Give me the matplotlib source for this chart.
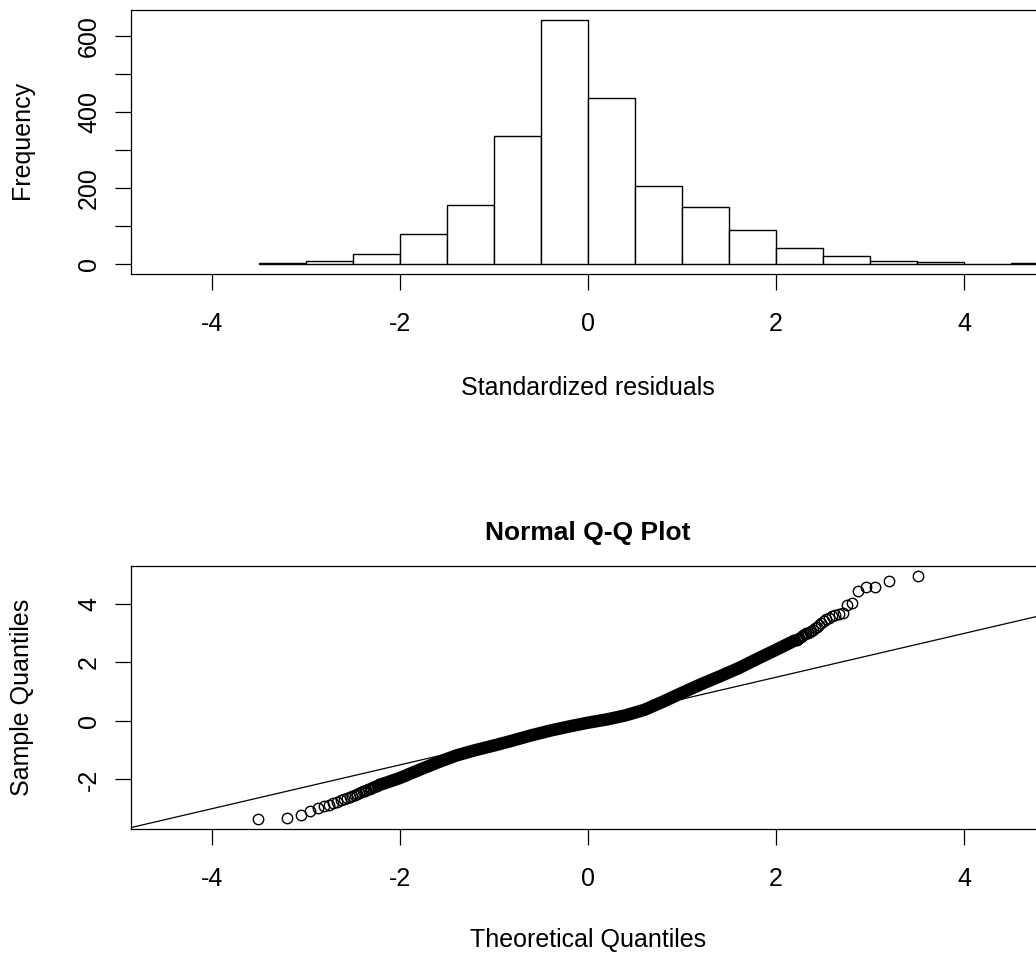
import statistics
import matplotlib
matplotlib.use("Agg")
import matplotlib.pyplot as plt

plt.rcParams.update({
    "font.family": ["Liberation Sans", "DejaVu Sans"],
    "font.size": 18,
    "axes.unicode_minus": False,
    "axes.linewidth": 0.9,
    "xtick.major.size": 11.5,
    "ytick.major.size": 11.5,
    "xtick.major.width": 0.9,
    "ytick.major.width": 0.9,
    "xtick.major.pad": 16,
    "ytick.major.pad": 10,
})

# histogram of standardized residuals, bins of width 0.5
bin_edges = [-3.5, -3.0, -2.5, -2.0, -1.5, -1.0, -0.5, 0.0, 0.5,
             1.0, 1.5, 2.0, 2.5, 3.0, 3.5, 4.0, 4.5, 5.0]
counts = [3, 9, 26, 79, 157, 339, 644, 439, 205, 152, 89, 44, 22, 9, 5, 1, 3]
n_obs = sum(counts)

# Q-Q plot: sorted residuals
# lowest residuals (1st, 2nd, ... smallest)
lower_tail = [-3.36, -3.32, -3.21, -3.08, -2.99, -2.92, -2.86, -2.81, -2.76, -2.71,
              -2.67, -2.63, -2.59, -2.56, -2.53, -2.50, -2.47, -2.44, -2.41, -2.38,
              -2.35, -2.33, -2.31, -2.29, -2.27, -2.25, -2.23, -2.21, -2.19, -2.17]
# highest residuals (1st, 2nd, ... largest)
upper_tail = [4.96, 4.79, 4.58, 4.56, 4.45, 4.02, 3.96, 3.70, 3.66, 3.62,
              3.57, 3.52, 3.47, 3.40, 3.33, 3.26, 3.21, 3.16, 3.12, 3.08,
              3.05, 3.02, 2.99, 2.96, 2.93, 2.90, 2.87, 2.84, 2.81, 2.78]
# dense middle of the curve (theoretical quantile, sample quantile)
body_theo = [-2.2, -2.0, -1.8, -1.6, -1.4, -1.2, -1.0, -0.8, -0.6, -0.4, -0.2, 0.0,
             0.2, 0.4, 0.6, 0.8, 1.0, 1.2, 1.4, 1.6, 1.8, 2.0, 2.2]
body_sample = [-2.17, -1.95, -1.68, -1.42, -1.18, -1.00, -0.84, -0.67, -0.49, -0.33,
               -0.19, -0.06, 0.05, 0.19, 0.38, 0.66, 0.96, 1.25, 1.52, 1.80, 2.12,
               2.43, 2.75]
sample_q1 = -0.51
sample_q3 = 0.50

norm = statistics.NormalDist()
theo_lo = [norm.inv_cdf((k - 0.5) / n_obs) for k in range(1, len(lower_tail) + 1)]
theo_hi = [norm.inv_cdf(1 - (k - 0.5) / n_obs) for k in range(1, len(upper_tail) + 1)]
z1, z3 = norm.inv_cdf(0.25), norm.inv_cdf(0.75)
slope = (sample_q3 - sample_q1) / (z3 - z1)
icpt = sample_q1 - slope * z1

W, H = 1036, 961
fig = plt.figure(figsize=(W / 100, H / 100), dpi=100)
fig.patch.set_facecolor("white")

def px_axes(left, top, right, bottom):
    return fig.add_axes([left / W, 1 - bottom / H, (right - left) / W, (bottom - top) / H])

XLIM = (-4.86, 4.86)

# top: histogram
ax1 = px_axes(131, 10, 1045, 274)
ax1.bar(bin_edges[:-1], counts, width=0.5, align="edge", color="white",
        edgecolor="black", linewidth=1.0)
ax1.set_xlim(*XLIM)
top = max(counts)
ax1.set_ylim(-0.04 * top, 1.04 * top)
ax1.set_xticks([-4, -2, 0, 2, 4])
ax1.set_yticks([0, 100, 200, 300, 400, 500, 600])
ax1.set_yticklabels(["0", "", "200", "", "400", "", "600"])
for lab in ax1.get_yticklabels():
    lab.set_rotation(90)
    lab.set_va("center")
fig.text(588 / W, 1 - 388 / H, "Standardized residuals", ha="center", va="center")
fig.text(22 / W, 1 - 140 / H, "Frequency", ha="center", va="center", rotation=90)

# bottom: normal Q-Q plot
ax2 = px_axes(131, 566, 1045, 829)
ax2.axline((0, icpt), slope=slope, color="black", linewidth=0.9)
ax2.plot(body_theo, body_sample, color="black", linewidth=9,
         solid_capstyle="round", solid_joinstyle="round")
ax2.plot(theo_lo, lower_tail, "o", mfc="none", mec="black", ms=7.5, mew=1.0)
ax2.plot(theo_hi, upper_tail, "o", mfc="none", mec="black", ms=7.5, mew=1.0)
ax2.set_xlim(*XLIM)
lo, hi = min(lower_tail), max(upper_tail)
r = hi - lo
ax2.set_ylim(lo - 0.04 * r, hi + 0.04 * r)
ax2.set_xticks([-4, -2, 0, 2, 4])
ax2.set_yticks([-2, 0, 2, 4])
for lab in ax2.get_yticklabels():
    lab.set_rotation(90)
    lab.set_va("center")
fig.text(588 / W, 1 - 533 / H, "Normal Q-Q Plot", ha="center", va="center",
         fontsize=19, fontweight="bold")
fig.text(588 / W, 1 - 940 / H, "Theoretical Quantiles", ha="center", va="center")
fig.text(22 / W, 1 - 697 / H, "Sample Quantiles", ha="center", va="center", rotation=90)

fig.savefig("out.png", dpi=100, facecolor="white")
